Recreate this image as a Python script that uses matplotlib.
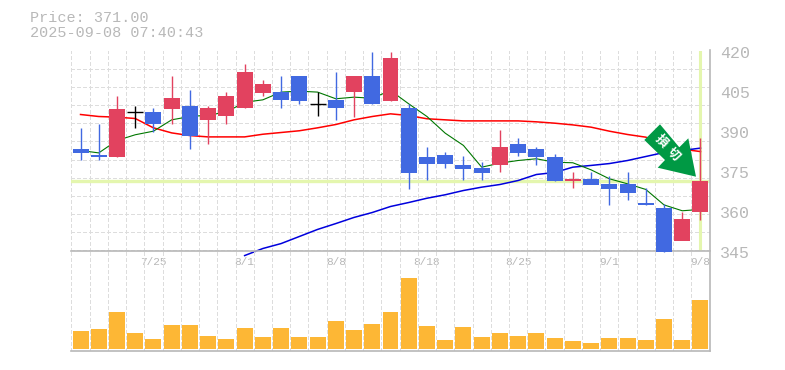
import numpy as np
import matplotlib
matplotlib.use('Agg')
import matplotlib.pyplot as plt
from matplotlib.patches import Polygon

plt.rcParams['font.family'] = ['Liberation Mono', 'DejaVu Sans Mono']

# daily prices
opens  = [383.25, 381, 379.9, 397.1, 397.1, 397.9, 399, 393.75, 395.6, 398.6, 403.9, 404.25, 410.25, 400, 401.25, 404.6, 410.25, 400.9,
          398.25, 380.25, 381, 377.25, 376.1, 376.9, 385.1, 383.25, 380.25, 370.9, 372, 370.1, 370.1, 363, 361.1, 348.75, 359.6]
closes = [381.75, 379.9, 398.25, 397.1, 392.6, 402, 387.75, 398.25, 403.1, 412.1, 407.25, 401.6, 400.9, 400, 398.6, 410.25, 399.75, 417,
          373.9, 377.6, 377.6, 375.75, 373.9, 384, 381.75, 379.9, 370.9, 372, 369.75, 367.9, 366.75, 361.9, 344.6, 357, 371.25]
highs  = [391.1, 392.25, 403.1, 399, 398.25, 410.25, 405, 399, 404.25, 415.1, 409.1, 410.25, 410.25, 404.25, 412.1, 410.25, 419.25, 419.25,
          400.1, 384, 382.1, 380.25, 378, 390, 387, 384, 381, 374.25, 374.25, 373.1, 374.25, 368.25, 362.25, 359.6, 387]
lows   = [378.75, 378.75, 379.9, 390.75, 389.6, 392.6, 382.9, 384.75, 392.6, 398.6, 402.75, 398.6, 399.75, 395.6, 393.75, 394.9, 399.75, 400.9,
          367.9, 371.6, 375.75, 371.6, 371.6, 374.6, 380.6, 376.9, 370.9, 368.6, 369.75, 361.9, 363.75, 361.9, 344.6, 348.75, 356.6]
volume = [18, 20, 37, 16, 10, 24, 24, 13, 10, 21, 12, 21, 12, 12, 28, 19, 25, 37,
          71, 23, 9, 22, 12, 16, 13, 16, 11, 8, 6, 11, 11, 9, 30, 9, 49]

ma_red = [396, 395.25, 395, 394.5, 391, 389.1, 388.1, 387.6, 387.6, 387.6, 388.6, 389.25, 389.9, 391, 392.25, 394, 395.25, 396.25,
          395.6, 394.4, 394, 393.6, 393.6, 393.6, 393.6, 393.25, 392.75, 392.1, 391.25, 389.75, 388.5, 387.5, 385.1, 383, 382.1]
ma_green = [382.5, 381.6, 386.25, 388.4, 389.75, 394, 395.25, 395.75, 396.9, 400.6, 401.5, 404.4, 404.75, 404.4, 401.9, 402.5, 402.1, 405,
            400, 395.25, 389, 384.4, 376.25, 377.75, 378.75, 379.4, 378.1, 377.9, 375.25, 371.9, 370, 367.9, 362.1, 359.9, 360.4]
# the long average only starts on 8/1
ma_blue = [343.1, 345.75, 347.6, 350.25, 352.9, 355.1, 357.4, 359.25, 361.5, 363, 364.6, 365.9, 367.5, 368.75, 369.75, 371.25,
           373.5, 374.25, 376.25, 376.9, 377.6, 378.75, 380.25, 381.75, 382.5, 383.4]
ma_blue_start = 9

price_labels = [420, 405, 390, 375, 360, 345]
date_pos = [4, 9, 14, 19, 24, 29, 34]
date_labels = ['7/25', '8/1', '8/8', '8/18', '8/25', '9/1', '9/8']
last_price = 371.00

RED = '#E2425F'
BLUE = '#4169E1'
GREY = '#B8B8B8'
GRID = '#DDDDDD'
PALE = '#E4F6AE'
W, H = 785, 370
DASH = (0, (3.5, 2.5))

fig = plt.figure(figsize=(W/100, H/100), dpi=100)
ax0 = fig.add_axes([71.4/W, 1-250.5/H, 638.2/W, 200/H])
ax1 = fig.add_axes([71.4/W, 1-350.5/H, 638.2/W, 100/H])

n = len(opens)
x = np.arange(n)
for ax in (ax0, ax1):
    ax.set_xlim(-0.5, n-0.5)
    ax.set_xticks([])
    ax.set_yticks([])
    ax.patch.set_alpha(0)
    for s in ('top', 'left'):
        ax.spines[s].set_visible(False)
    for s in ('bottom', 'right'):
        ax.spines[s].set_color(GREY)
        ax.spines[s].set_linewidth(1.2)
    ax.vlines(np.arange(n)-0.5, 0, 1, transform=ax.get_xaxis_transform(), color=GRID,
              lw=0.72, linestyle=DASH, zorder=0, antialiased=False)

ax0.set_ylim(345, 420)
ax1.set_ylim(-2, 98)
ax0.hlines(np.linspace(345, 420, 12), 0, 1, transform=ax0.get_yaxis_transform(), color=GRID,
           lw=0.72, linestyle=DASH, zorder=0, antialiased=False)

# current price cross
ax0.axhline(last_price, color=PALE, lw=2.4, zorder=1)
ax0.axvline(n-1, color=PALE, lw=2.2, zorder=1)

# moving averages
ax0.plot(x, ma_red, color='#FF0000', lw=1.1, zorder=2)
ax0.plot(x[ma_blue_start:], ma_blue, color='#0000DD', lw=1.1, zorder=2, clip_on=False)
ax0.plot(x, ma_green, color='#007700', lw=0.8, zorder=2)

# candles
for i in range(n):
    o, c = opens[i], closes[i]
    if c > o:
        col = RED
    elif c < o:
        col = BLUE
    else:
        col = 'black'
    ax0.vlines(i, lows[i], highs[i], color=col, lw=1.0, zorder=3, clip_on=False)
    if col == 'black':
        ax0.hlines(o, i-0.44, i+0.44, color=col, lw=1.0, zorder=3)
    else:
        ax0.bar(i, abs(c-o), bottom=min(o, c), width=0.877, color=col, zorder=3, antialiased=False, clip_on=False)

ax1.bar(x, volume, width=0.877, color='#FDB735', zorder=3, antialiased=False)

for p in price_labels:
    ax0.annotate(str(p), (1, p), xycoords=ax0.get_yaxis_transform(), xytext=(7.3, -2.2), textcoords='offset points',
                 color=GREY, fontsize=12, va='center', ha='left')
for d, lab in zip(date_pos, date_labels):
    ax0.annotate(lab, (d, 345), xycoords='data', xytext=(0, -8.2), textcoords='offset points',
                 color=GREY, fontsize=8, ha='center', va='center')

fig.text(29.5/W, 1-18/H, 'Price: %.2f' % last_price, color=GREY, fontsize=10.9, va='center', ha='left')
fig.text(29.5/W, 1-33/H, '2025-09-08 07:40:43', color=GREY, fontsize=10.9, va='center', ha='left')

# green arrow badge, pixels of the figure, sits over the marks of the price panel
arrow_px = [(660, 124.3), (644.3, 140), (665, 160), (657.7, 167.7), (696, 176.7), (688.3, 138.3), (679.3, 147.3)]
ax0.add_patch(Polygon([(a/W, 1-b/H) for a, b in arrow_px], closed=True, transform=fig.transFigure,
                      facecolor='#009944', edgecolor='none', zorder=10, clip_on=False))
for ch, cx, cy in [('損', 661, 141.7), ('切', 673.3, 154.3)]:
    ax0.text(cx/W, 1-cy/H, ch, color='white', fontsize=9, fontweight='bold', rotation=-45, ha='center', va='center',
             transform=fig.transFigure, family=['Noto Sans CJK JP', 'DejaVu Sans'], zorder=11)

fig.savefig('out.png', dpi=100, facecolor='white')
